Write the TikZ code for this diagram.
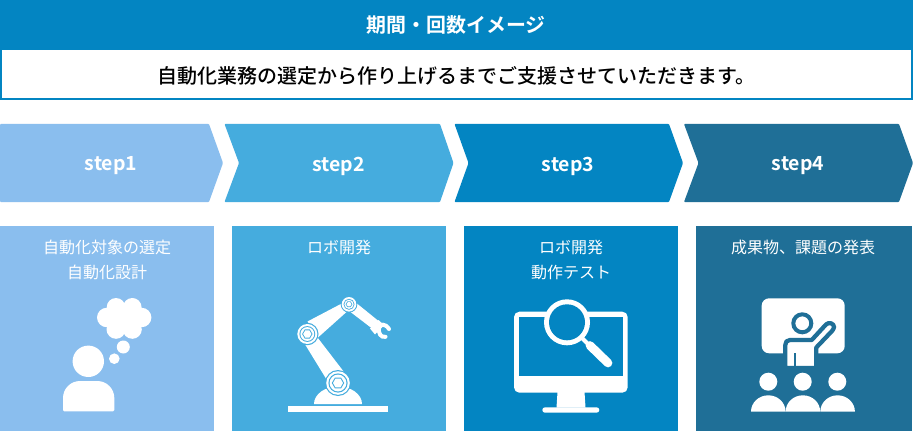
\documentclass[tikz,border=0pt]{standalone}
\usepackage{fontspec}
\setmainfont{Noto Sans CJK JP}[BoldFont={Noto Sans CJK JP Bold}]
\newfontfamily\medfont{Noto Sans CJK JP Medium}
\definecolor{cA}{HTML}{8ABEEE}
\definecolor{cB}{HTML}{45ACDE}
\definecolor{cC}{HTML}{0385C2}
\definecolor{cD}{HTML}{1F6F97}
\newcommand{\hexa}[5]{\fill[#5,shift={(#1,#2)}] (#4:#3) -- (#4+60:#3) -- (#4+120:#3) -- (#4+180:#3) -- (#4+240:#3) -- (#4+300:#3) -- cycle;}
\tikzset{
 x=0.75pt,y=-0.75pt,
 steplabel/.style={text=white,font=\fontsize{14.6pt}{16pt}\selectfont\bfseries,inner sep=0pt,anchor=center},
 cardlabel/.style={text=white,font=\fontsize{12pt}{18.75pt}\selectfont,align=center,inner sep=0pt,anchor=center},
 iconw/.style={fill=white,draw=none},
}
\begin{document}
\begin{tikzpicture}
\useasboundingbox (0,0) rectangle (913,431);
\fill[white] (0,0) rectangle (913,431);
% header
\fill[cC] (0,0) rectangle (913,100);
\fill[white] (2,50) rectangle (911,98);
\node[text=white,font=\fontsize{14.95pt}{18pt}\selectfont\bfseries,inner sep=0pt] (title) at (456,25) {期間・回数イメージ};
\node[text=black,font=\medfont\fontsize{15pt}{18pt}\selectfont,inner sep=0pt] (sub) at (456,75.5) {自動化業務の選定から作り上げるまでご支援させていただきます。};
% chevrons
\fill[cA,rounded corners=0.6pt] (0,124) -- (209,124) -- (223,163) -- (209,202) -- (0,202) -- cycle;
\fill[cB,rounded corners=0.6pt] (224.5,124) -- (440,124) -- (453.5,163) -- (440,202) -- (224.5,202) -- (239,163) -- cycle;
\fill[cC,rounded corners=0.6pt] (454.5,124) -- (669,124) -- (683,163) -- (669,202) -- (454.5,202) -- (468.5,163) -- cycle;
\fill[cD,rounded corners=0.6pt] (684,124) -- (899,124) -- (913,163) -- (899,202) -- (684,202) -- (698.5,163) -- cycle;
\node[steplabel] (s1) at (111,166) {step1};
\node[steplabel] (s2) at (338.5,166) {step2};
\node[steplabel] (s3) at (568,166) {step3};
\node[steplabel] (s4) at (798,166) {step4};
% cards
\fill[cA] (0,226) rectangle (214,431);
\fill[cB] (232,226) rectangle (446,431);
\fill[cC] (464,226) rectangle (678,431);
\fill[cD] (696,226) rectangle (912,431);
\node[cardlabel,anchor=north] (c1) at (107,239.5) {自動化対象の選定\\自動化設計};
\node[cardlabel,anchor=north] (c2) at (339,239.5) {ロボ開発};
\node[cardlabel,anchor=north] (c3) at (571,239.5) {ロボ開発\\動作テスト};
\node[cardlabel,anchor=north] (c4) at (803,239.5) {成果物、課題の発表};
% icon 1: person thinking
\fill[iconw] (88.3,361.3) circle[radius=15.7];
\fill[iconw] (63,410) -- (63,398) arc[start angle=180,end angle=270,radius=17] -- (97.3,381) arc[start angle=270,end angle=360,radius=17] -- (114.3,410) -- (113,411.3) -- (64.3,411.3) -- cycle;
\fill[iconw] (114.3,358.7) circle[radius=5.3];
\fill[iconw] (123.3,347) circle[radius=6.5];
\fill[iconw] (106.7,317.5) circle[radius=9.7];
\fill[iconw] (141.7,317.5) circle[radius=9.7];
\fill[iconw] (116,307.3) circle[radius=9.3];
\fill[iconw] (132.3,307.3) circle[radius=9.3];
\fill[iconw] (116,329.3) circle[radius=9.5];
\fill[iconw] (132.3,329.3) circle[radius=9.5];
\fill[iconw] (108,307) rectangle (140,330);
% icon 2: robot arm
\fill[iconw] (287.7,405.7) rectangle (388.3,412.3);
\fill[iconw] (314,404) arc[start angle=180,end angle=360,x radius=24,y radius=17.5] -- cycle;
\fill[iconw] (305,344.3) -- (327.5,381) -- (344,372) -- (317.5,337.5) -- cycle;
\fill[iconw] (307.5,321.5) -- (342.7,303) -- (346.5,312) -- (318,337.5) -- cycle;
\fill[iconw] (355.7,302.5) -- (378.8,321.2) -- (371.7,328.2) -- (350.5,312) -- cycle;
% gripper
\fill[iconw] (378.5,320) -- (384,325) -- (375,334.5) -- (370,328.5) -- cycle;
\draw[white,line width=3pt,line cap=round] (389,329) .. controls (385,323) and (380.5,324) .. (379,328) .. controls (378,333) and (381,338) .. (385.5,336.8);
% joints
\fill[cB] (338,383) circle[radius=13];
\fill[iconw] (338,383) circle[radius=11.8];
\fill[cB] (338,383) circle[radius=9.6];
\fill[iconw] (338,383) circle[radius=8.4];
\hexa{338}{383}{6.2}{0}{cB}
\hexa{338}{383}{5}{0}{white}
\fill[cB] (307.3,334) circle[radius=11.2];
\fill[iconw] (307.3,334) circle[radius=10];
\fill[cB] (307.3,334) circle[radius=7.9];
\fill[iconw] (307.3,334) circle[radius=6.9];
\hexa{307.3}{334}{5.2}{0}{cB}
\hexa{307.3}{334}{4.1}{0}{white}
\fill[cB] (349,304.3) circle[radius=8.3];
\fill[iconw] (349,304.3) circle[radius=7.3];
\fill[cB] (349,304.3) circle[radius=5.5];
\fill[iconw] (349,304.3) circle[radius=4.6];
\hexa{349}{304.3}{3.3}{0}{cB}
\hexa{349}{304.3}{2.4}{0}{white}
% icon 3: monitor with magnifier
\fill[iconw,rounded corners=4pt] (514,311.7) rectangle (627.7,392.7);
\fill[cC] (519,316.7) rectangle (622.7,375.7);
\fill[iconw] (557.5,392) -- (584.5,392) -- (585.5,407.5) -- (556.5,407.5) -- cycle;
\fill[iconw,rounded corners=2pt] (542.3,407.3) rectangle (599.3,412.7);
\fill[iconw] (567,322.3) circle[radius=23];
\fill[cC] (567,322.3) circle[radius=18];
\draw[white,line width=3pt] (580,336) -- (590,346);
\draw[white,line width=6.5pt,line cap=round] (590,345.5) -- (608,363);
% icon 4: presenter
\fill[iconw,rounded corners=5.5pt] (761.7,298.3) rectangle (844.7,353.3);
\fill[iconw,draw=cD,line width=3.2pt,line join=round] (785.3,368) -- (785.3,345) .. controls (785.3,342) and (787,340) .. (790,340) -- (811.7,340) -- (826,324.5) .. controls (829,321.5) and (834,323.5) .. (834,327) .. controls (834,328.5) and (833,329.5) .. (832,331) -- (816.3,347.5) -- (816.3,368) -- cycle;
\fill[cD] (785,366.2) rectangle (818,369);
\fill[cD] (794.2,353.3) rectangle (796.4,366.5);
\draw[cD,line width=3pt] (802.3,323.3) circle[radius=9];
\foreach \hx/\bx in {768.3/751, 802.7/785.6, 837.3/820.3}{
 \fill[iconw] (\hx,381.7) circle[radius=9];
 \fill[iconw] (\bx,411.7) arc[start angle=180,end angle=360,x radius=17.3,y radius=16.4] -- cycle;
}
\end{tikzpicture}
\end{document}
